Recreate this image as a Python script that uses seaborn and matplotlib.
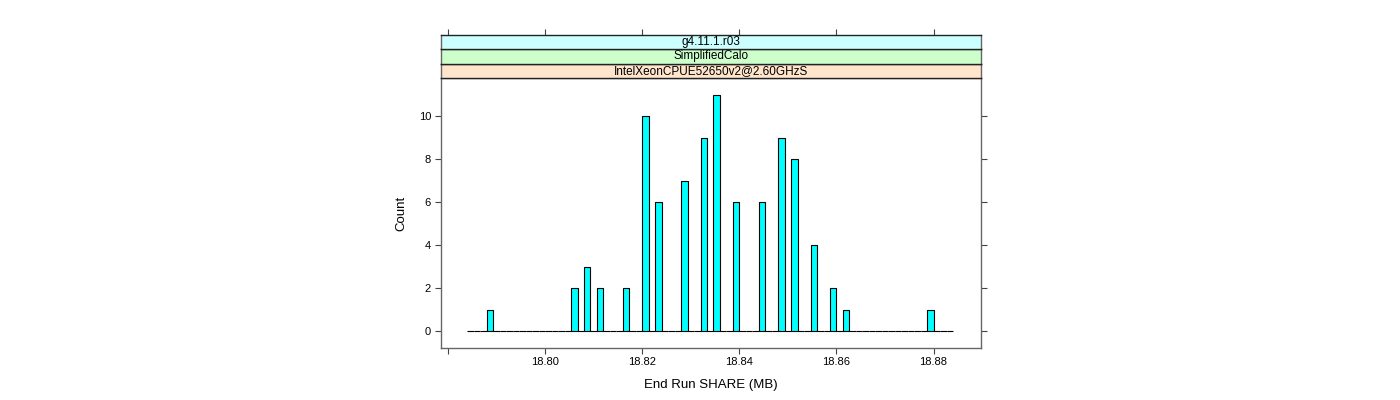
import matplotlib
matplotlib.use("Agg")
import matplotlib.pyplot as plt
import seaborn as sns
import pandas as pd

# values (MB) and their counts
share_mb = [18.7885, 18.8055, 18.8092, 18.8116, 18.8165, 18.8201, 18.8238, 18.8286,
            18.8323, 18.8360, 18.8395, 18.8444, 18.8481, 18.8517, 18.8553, 18.8589,
            18.8626, 18.8798]
counts = [1, 2, 3, 2, 2, 10, 6, 7, 9, 11, 6, 6, 9, 8, 4, 2, 1, 1]

strip_labels = ["g4.11.1.r03", "SimplifiedCalo", "IntelXeonCPUE52650v2@2.60GHzS"]
strip_colors = ["#ccffff", "#ccffcc", "#ffe5cc"]

x_ticks = [18.78, 18.80, 18.82, 18.84, 18.86, 18.88]
x_tick_labels = ["", "18.80", "18.82", "18.84", "18.86", "18.88"]
y_ticks = [0, 2, 4, 6, 8, 10]

sns.set_style("white")
plt.rcParams["font.family"] = ["Liberation Sans", "DejaVu Sans"]
plt.rcParams["text.color"] = "black"
plt.rcParams["axes.labelcolor"] = "black"
plt.rcParams["xtick.color"] = "black"
plt.rcParams["ytick.color"] = "black"

df = pd.DataFrame({"share": share_mb, "n": counts})

fig = plt.figure(figsize=(14, 4), dpi=100)
ax = fig.add_axes([0.3148, 0.1308, 0.3857, 0.6735])

sns.histplot(data=df, x="share", weights="n", bins=75, binrange=(18.7841, 18.8840),
             color="#00ffff", edgecolor="black", linewidth=0.8, alpha=1, ax=ax)

xlim = (18.7786, 18.8897)
ax.set_xlim(*xlim)
ax.set_ylim(-0.77, 11.77)
ax.set_xticks(x_ticks)
ax.set_xticklabels(x_tick_labels)
ax.set_yticks(y_ticks)
ax.tick_params(axis="both", direction="out", length=4, width=0.8, color="#444444",
               labelcolor="black", labelsize=8, bottom=True, left=True, right=True,
               top=False, pad=3)
ax.set_xlabel("End Run SHARE (MB)", fontsize=9.5, labelpad=8, color="black")
ax.set_ylabel("Count", fontsize=9.5, labelpad=8, color="black")
for s in ax.spines.values():
    s.set_color("#666666")
    s.set_linewidth(1)

# strips on top of the panel
strip_h = 14.55 / 400
panel_top = 0.1308 + 0.6735
for i, (label, col) in enumerate(zip(strip_labels[::-1], strip_colors[::-1])):
    sax = fig.add_axes([0.3148, panel_top + i * strip_h, 0.3857, strip_h])
    sax.set_facecolor(col)
    sax.set_xlim(*xlim)
    sax.set_ylim(0, 1)
    sax.text(0.5, 0.5, label, transform=sax.transAxes, ha="center", va="center",
             fontsize=8.5, color="black")
    sax.set_yticks([])
    if i == len(strip_labels) - 1:
        sax.set_xticks(x_ticks)
        sax.tick_params(axis="x", direction="out", length=4, width=0.8, color="#444444",
                        top=True, bottom=False, labeltop=False, labelbottom=False)
    else:
        sax.set_xticks([])
    for name, s in sax.spines.items():
        s.set_color("#666666" if name in ("left", "right") else "#222222")
        s.set_linewidth(1)

fig.savefig("out.png", dpi=100)
